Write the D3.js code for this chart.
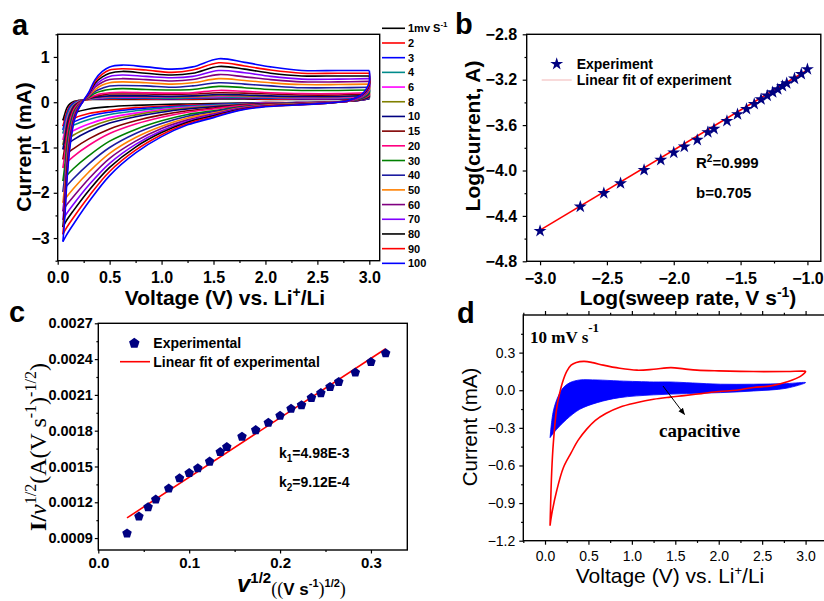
<!DOCTYPE html>
<html>
<head>
<meta charset="utf-8">
<script src="https://cdn.jsdelivr.net/npm/d3@7"></script>
<style>
  body { margin: 0; background: #fff; }
  svg { display: block; }
</style>
</head>
<body>
<svg id="fig" width="824" height="601"></svg>
<script>
// ---------- Panel a: CV curves at different sweep rates ----------
const rates = [1, 2, 3, 4, 6, 8, 10, 15, 20, 30, 40, 50, 60, 70, 80, 90, 100];
const rateLabels = ["1mv S", "2", "3", "4", "6", "8", "10", "15", "20", "30", "40", "50", "60", "70", "80", "90", "100"];
const rateColors = ["#000000", "#ff0000", "#0000ff", "#008b8b", "#ff00ff", "#808000", "#000080", "#800000",
                    "#ff0080", "#008000", "#1c1ca0", "#ff8000", "#800080", "#8000ff", "#000000", "#ff0000", "#0000ff"];

// anodic sweep voltages (0.05 V -> 3.0 V)
const anodicV = [0.05, 0.07, 0.09, 0.12, 0.16, 0.2, 0.25, 0.3, 0.36, 0.43, 0.5, 0.62, 0.85, 1.1, 1.3, 1.55, 1.8, 2.05, 2.35, 2.7, 3.0];
// cathodic sweep voltages (3.0 V -> 0.08 V)
const cathodicV = [3.0, 2.93, 2.8, 2.6, 2.3, 2.0, 1.75, 1.5, 1.25, 1.0, 0.75, 0.5, 0.3, 0.15, 0.08];

// current (mA), one row per sweep rate
const anodicI = [
  [-0.40,-0.25,-0.12,-0.03, 0.02, 0.04,0.05,0.06,0.06,0.06,0.06,0.06,0.06,0.06,0.06,0.07,0.07,0.06,0.06,0.06,0.08],
  [-0.53,-0.36,-0.20,-0.08, 0.00, 0.03,0.05,0.06,0.07,0.07,0.07,0.08,0.07,0.07,0.07,0.09,0.09,0.07,0.07,0.07,0.09],
  [-0.61,-0.43,-0.25,-0.10,-0.01, 0.02,0.05,0.07,0.08,0.08,0.09,0.09,0.09,0.08,0.09,0.10,0.10,0.09,0.08,0.08,0.10],
  [-0.69,-0.50,-0.29,-0.13,-0.03, 0.02,0.05,0.07,0.08,0.09,0.10,0.10,0.10,0.09,0.10,0.11,0.11,0.10,0.09,0.09,0.11],
  [-0.83,-0.61,-0.37,-0.18,-0.05, 0.01,0.05,0.07,0.09,0.10,0.11,0.11,0.11,0.11,0.11,0.13,0.13,0.11,0.10,0.10,0.12],
  [-0.94,-0.70,-0.44,-0.21,-0.06, 0.00,0.05,0.07,0.10,0.12,0.12,0.13,0.12,0.12,0.12,0.15,0.14,0.12,0.12,0.12,0.14],
  [-1.04,-0.79,-0.50,-0.25,-0.08,-0.01,0.05,0.08,0.11,0.13,0.14,0.14,0.14,0.13,0.14,0.17,0.16,0.14,0.13,0.13,0.15],
  [-1.26,-0.97,-0.63,-0.32,-0.11,-0.02,0.05,0.09,0.13,0.16,0.18,0.18,0.18,0.17,0.18,0.21,0.20,0.18,0.16,0.16,0.18],
  [-1.45,-1.13,-0.74,-0.39,-0.14,-0.03,0.05,0.09,0.15,0.19,0.21,0.22,0.21,0.20,0.21,0.26,0.24,0.21,0.19,0.19,0.21],
  [-1.74,-1.38,-0.91,-0.49,-0.19,-0.06,0.05,0.11,0.20,0.25,0.28,0.30,0.28,0.27,0.28,0.35,0.32,0.28,0.26,0.26,0.27],
  [-1.98,-1.58,-1.05,-0.57,-0.23,-0.07,0.04,0.13,0.24,0.31,0.36,0.37,0.36,0.33,0.36,0.43,0.40,0.36,0.32,0.32,0.33],
  [-2.22,-1.78,-1.19,-0.66,-0.27,-0.09,0.04,0.14,0.28,0.38,0.43,0.45,0.43,0.40,0.43,0.52,0.48,0.43,0.39,0.39,0.40],
  [-2.41,-1.94,-1.31,-0.72,-0.30,-0.10,0.04,0.16,0.33,0.44,0.50,0.52,0.50,0.47,0.50,0.61,0.56,0.50,0.45,0.45,0.46],
  [-2.60,-2.10,-1.42,-0.78,-0.32,-0.12,0.04,0.17,0.37,0.50,0.57,0.60,0.57,0.54,0.57,0.70,0.65,0.57,0.51,0.51,0.52],
  [-2.76,-2.23,-1.51,-0.84,-0.35,-0.13,0.04,0.19,0.42,0.56,0.64,0.68,0.64,0.60,0.64,0.79,0.73,0.64,0.58,0.58,0.58],
  [-2.92,-2.37,-1.61,-0.89,-0.37,-0.14,0.04,0.20,0.46,0.62,0.71,0.74,0.71,0.66,0.71,0.87,0.80,0.71,0.64,0.64,0.64],
  [-3.08,-2.50,-1.70,-0.95,-0.40,-0.15,0.04,0.22,0.50,0.68,0.78,0.82,0.78,0.73,0.78,0.96,0.88,0.78,0.70,0.70,0.70]
];
const cathodicI = [
  [0.08,0.05,0.02, 0.00,-0.01,-0.01,-0.02,-0.03,-0.04,-0.05,-0.07,-0.10,-0.15,-0.24,-0.32],
  [0.09,0.05,0.02, 0.00,-0.01,-0.01,-0.03,-0.05,-0.06,-0.09,-0.12,-0.18,-0.25,-0.36,-0.45],
  [0.09,0.05,0.02, 0.00,-0.01,-0.02,-0.03,-0.05,-0.08,-0.11,-0.15,-0.22,-0.31,-0.44,-0.53],
  [0.10,0.06,0.02, 0.00,-0.02,-0.02,-0.04,-0.06,-0.09,-0.13,-0.19,-0.27,-0.38,-0.51,-0.61],
  [0.11,0.06,0.02, 0.00,-0.02,-0.02,-0.05,-0.08,-0.11,-0.16,-0.24,-0.34,-0.48,-0.63,-0.74],
  [0.11,0.06,0.02, 0.00,-0.02,-0.03,-0.05,-0.09,-0.13,-0.19,-0.28,-0.40,-0.56,-0.73,-0.85],
  [0.12,0.06,0.02, 0.00,-0.02,-0.03,-0.06,-0.10,-0.15,-0.22,-0.32,-0.46,-0.64,-0.83,-0.95],
  [0.14,0.07,0.02, 0.00,-0.03,-0.04,-0.07,-0.13,-0.19,-0.28,-0.41,-0.59,-0.81,-1.03,-1.16],
  [0.16,0.08,0.02, 0.00,-0.03,-0.05,-0.08,-0.15,-0.22,-0.33,-0.48,-0.69,-0.95,-1.20,-1.35],
  [0.19,0.09,0.03,-0.01,-0.04,-0.06,-0.10,-0.19,-0.27,-0.41,-0.60,-0.86,-1.18,-1.47,-1.64],
  [0.23,0.10,0.03,-0.01,-0.04,-0.06,-0.11,-0.21,-0.31,-0.47,-0.69,-1.00,-1.36,-1.69,-1.87],
  [0.27,0.12,0.03,-0.01,-0.04,-0.07,-0.13,-0.24,-0.35,-0.53,-0.78,-1.13,-1.54,-1.91,-2.11],
  [0.31,0.13,0.03,-0.01,-0.05,-0.08,-0.14,-0.26,-0.39,-0.58,-0.86,-1.24,-1.69,-2.09,-2.29],
  [0.34,0.14,0.03,-0.01,-0.05,-0.08,-0.15,-0.28,-0.42,-0.63,-0.93,-1.35,-1.83,-2.26,-2.48],
  [0.38,0.16,0.04,-0.02,-0.05,-0.09,-0.16,-0.30,-0.44,-0.67,-0.99,-1.44,-1.95,-2.40,-2.63],
  [0.41,0.17,0.04,-0.02,-0.06,-0.09,-0.17,-0.32,-0.47,-0.72,-1.06,-1.53,-2.08,-2.55,-2.79],
  [0.45,0.18,0.04,-0.02,-0.06,-0.10,-0.18,-0.34,-0.50,-0.76,-1.12,-1.62,-2.20,-2.70,-2.95]
];

// ---------- Panel b: log(peak current) vs log(sweep rate) ----------
const logRate = [-3, -2.699, -2.523, -2.398, -2.222, -2.097, -2, -1.921, -1.824, -1.745, -1.699, -1.602,
                 -1.523, -1.456, -1.398, -1.347, -1.301, -1.260, -1.222, -1.187, -1.155, -1.097, -1.046, -1];
const logCurrent = [-4.533, -4.319, -4.200, -4.113, -3.996, -3.907, -3.843, -3.790, -3.731, -3.663, -3.634, -3.564,
                    -3.505, -3.458, -3.414, -3.373, -3.341, -3.311, -3.285, -3.256, -3.232, -3.191, -3.150, -3.108];
const bValue = 0.705;          // slope of the linear fit
const fitIntercept = -2.41;
const fitRange = [-3, -1];

// ---------- Panel c: I/v^1/2 vs v^1/2 ----------
const sqrtRate = [0.0316, 0.0447, 0.0548, 0.0632, 0.0775, 0.0894, 0.1, 0.1095, 0.1225, 0.1342, 0.1414, 0.1581,
                  0.1732, 0.1871, 0.2, 0.2121, 0.2236, 0.2345, 0.2449, 0.255, 0.2646, 0.2828, 0.3, 0.3162];
const currentOverSqrt = [0.000939, 0.001081, 0.001159, 0.001223, 0.001315, 0.001401, 0.001446, 0.001485, 0.001541,
                         0.001621, 0.001663, 0.00175, 0.001805, 0.001867, 0.001925, 0.001984, 0.002014, 0.002075,
                         0.002115, 0.002167, 0.002209, 0.002287, 0.002376, 0.002449];
const k1 = 4.98e-3;
const k2 = 9.12e-4;

// ---------- Panel d: 10 mV/s CV and capacitive contribution ----------
const totalAnodicV = [0.058, 0.077, 0.096, 0.135, 0.17, 0.2, 0.25, 0.3, 0.36, 0.45, 0.55, 0.67, 0.86, 1.06, 1.25, 1.45, 1.6, 1.75, 2.0, 2.4, 2.78, 2.97, 3.0];
const totalAnodicI = [-1.08, -0.65, -0.42, -0.14, -0.02, 0.06, 0.15, 0.20, 0.222, 0.23, 0.22, 0.20, 0.175, 0.16, 0.167, 0.18, 0.17, 0.16, 0.154, 0.149, 0.149, 0.152, 0.15];
const totalCathodicV = [3.0, 2.94, 2.8, 2.6, 2.4, 2.2, 2.0, 1.8, 1.6, 1.44, 1.25, 1.05, 0.86, 0.7, 0.58, 0.48, 0.38, 0.3, 0.21, 0.135, 0.077, 0.058];
const totalCathodicI = [0.15, 0.11, 0.07, 0.035, 0.022, 0.0, -0.01, -0.027, -0.043, -0.055, -0.072, -0.10, -0.135, -0.185, -0.24, -0.31, -0.40, -0.50, -0.62, -0.80, -0.99, -1.08];
const capUpperV = [0.058, 0.096, 0.153, 0.211, 0.288, 0.40, 0.6, 0.86, 1.25, 1.44, 1.7, 2.02, 2.4, 2.78, 3.0];
const capUpperI = [-0.378, -0.165, -0.046, 0.021, 0.061, 0.082, 0.082, 0.074, 0.066, 0.066, 0.058, 0.048, 0.048, 0.053, 0.061];
const capLowerV = [3.0, 2.78, 2.4, 2.02, 1.63, 1.25, 0.86, 0.6, 0.4, 0.25, 0.135, 0.058];
const capLowerI = [0.034, 0.016, -0.006, -0.019, -0.027, -0.037, -0.059, -0.099, -0.152, -0.231, -0.311, -0.378];

// ---------- Tick values ----------
const aXTicks = [0, 0.5, 1.0, 1.5, 2.0, 2.5, 3.0];
const aXMinor = [0.25, 0.75, 1.25, 1.75, 2.25, 2.75];
const aYTicks = [-3, -2, -1, 0, 1];
const aYMinor = [-3.5, -2.5, -1.5, -0.5, 0.5, 1.5];
const bXTicks = [-3.0, -2.5, -2.0, -1.5, -1.0];
const bXMinor = [-2.75, -2.25, -1.75, -1.25];
const bYTicks = [-4.8, -4.4, -4.0, -3.6, -3.2, -2.8];
const bYMinor = [-4.6, -4.2, -3.8, -3.4, -3.0];
const cXTicks = [0.0, 0.1, 0.2, 0.3];
const cXMinor = [0.05, 0.15, 0.25];
const cYTicks = [0.0009, 0.0012, 0.0015, 0.0018, 0.0021, 0.0024, 0.0027];
const cYMinor = [0.00105, 0.00135, 0.00165, 0.00195, 0.00225, 0.00255];
const dXTicks = [0.0, 0.5, 1.0, 1.5, 2.0, 2.5, 3.0];
const dXMinor = [-0.25, 0.25, 0.75, 1.25, 1.75, 2.25, 2.75];
const dYTicks = [-1.2, -0.9, -0.6, -0.3, 0.0, 0.3];
const dYMinor = [-1.05, -0.75, -0.45, -0.15, 0.15, 0.45];

// ================= drawing =================
const SANS = '"Liberation Sans", Arial, Helvetica, sans-serif';
const SERIF = '"Liberation Serif", "Times New Roman", serif';
const svg = d3.select("#fig");

svg.append("defs").append("marker")
  .attr("id", "arrowHead").attr("viewBox", "0 0 10 10").attr("refX", 9).attr("refY", 5)
  .attr("markerWidth", 7).attr("markerHeight", 7).attr("orient", "auto")
  .append("path").attr("d", "M0,1 L10,5 L0,9 Z").attr("fill", "#000");

function addAxis(o) {
  const make = { bottom: d3.axisBottom, left: d3.axisLeft, top: d3.axisTop }[o.side];
  const tr = o.side === "left" ? `translate(${o.at},0)` : `translate(0,${o.at})`;
  const gm = svg.append("g").attr("transform", tr)
    .call(make(o.scale).tickValues(o.minors).tickSize(o.size * 0.55).tickFormat(""));
  gm.select(".domain").remove();
  const g = svg.append("g").attr("transform", tr)
    .call(make(o.scale).tickValues(o.majors).tickSize(o.size).tickPadding(o.pad)
      .tickFormat(o.fmt ? o.fmt : () => ""));
  g.select(".domain").remove();
  g.selectAll("text").attr("font-family", SANS).attr("font-size", o.fs)
    .attr("font-weight", o.fw).attr("fill", "#000");
  [gm, g].forEach(x => x.selectAll(".tick line").attr("stroke", "#000").attr("stroke-width", 1.2));
}

// rich text with raised / lowered pieces
function rich(parent, x, y, parts, base) {
  const t = parent.append("text").attr("x", x).attr("y", y);
  Object.entries(base).forEach(([k, v]) => t.attr(k, v));
  let shift = 0;
  parts.forEach(p => {
    const s = t.append("tspan").text(p.t);
    const target = p.dy || 0;
    if (target !== shift) s.attr("dy", target - shift);
    shift = target;
    ["font-size", "font-family", "font-weight", "font-style"].forEach(k => { if (p[k]) s.attr(k, p[k]); });
  });
  return t;
}

function frame(x0, y0, x1, y1) {
  svg.append("rect").attr("x", x0).attr("y", y0).attr("width", x1 - x0).attr("height", y1 - y0)
    .attr("fill", "none").attr("stroke", "#000").attr("stroke-width", 1.4);
}

function panelLetter(ch, x, y) {
  svg.append("text").attr("x", x).attr("y", y).text(ch)
    .attr("font-family", SANS).attr("font-weight", "bold").attr("font-size", 29);
}

// ---------------- panel a ----------------
const xa = d3.scaleLinear().domain([0, 3.1]).range([57.7, 379.7]);
const ya = d3.scaleLinear().domain([-3.5, 1.5]).range([260.7, 34.3]);
const smooth = d3.line().x(d => xa(d[0])).y(d => ya(d[1])).curve(d3.curveCatmullRom.alpha(0.5));

const gA = svg.append("g");
rates.forEach((r, i) => {
  const an = anodicV.map((v, j) => [v, anodicI[i][j]]);
  const ca = [an[an.length - 1]].concat(cathodicV.map((v, j) => [v, cathodicI[i][j]]), [an[0]]);
  gA.append("path").attr("d", smooth(an)).attr("fill", "none")
    .attr("stroke", rateColors[i]).attr("stroke-width", 1.6);
  gA.append("path").attr("d", smooth(ca)).attr("fill", "none")
    .attr("stroke", rateColors[i]).attr("stroke-width", 1.6);
});
frame(57.7, 34.3, 379.7, 260.7);
addAxis({ side: "bottom", at: 260.7, scale: xa, majors: aXTicks, minors: aXMinor, size: 4, pad: 7,
          fmt: d3.format(".1f"), fs: 16, fw: "bold" });
addAxis({ side: "left", at: 57.7, scale: ya, majors: aYTicks, minors: aYMinor, size: 4, pad: 4,
          fmt: d3.format("d"), fs: 16, fw: "bold" });

// legend of sweep rates
const legA = svg.append("g");
rates.forEach((r, i) => {
  const yy = 28.3 + i * 14.69;
  legA.append("line").attr("x1", 382).attr("x2", 405).attr("y1", yy).attr("y2", yy)
    .attr("stroke", rateColors[i]).attr("stroke-width", 1.6);
  const parts = i === 0 ? [{ t: rateLabels[i] }, { t: "-1", dy: -5, "font-size": 8 }] : [{ t: rateLabels[i] }];
  rich(legA, 408, yy + 4, parts, { "font-family": SANS, "font-weight": "bold", "font-size": 11 });
});

rich(svg, 225, 305, [{ t: "Voltage (V) vs. Li" }, { t: "+", dy: -8, "font-size": 14 }, { t: "/Li" }],
     { "font-family": SANS, "font-weight": "bold", "font-size": 21, "text-anchor": "middle" });
svg.append("g").attr("transform", "translate(31,147) rotate(-90)")
  .append("text").text("Current (mA)").attr("text-anchor", "middle")
  .attr("font-family", SANS).attr("font-weight", "bold").attr("font-size", 21);
panelLetter("a", 12, 35);

// ---------------- panel b ----------------
const xb = d3.scaleLinear().domain([-3.1, -0.9]).range([526.7, 820.8]);
const yb = d3.scaleLinear().domain([-4.8, -2.8]).range([261.3, 34.3]);
frame(526.7, 34.3, 820.8, 261.3);
svg.append("line")
  .attr("x1", xb(fitRange[0])).attr("y1", yb(bValue * fitRange[0] + fitIntercept))
  .attr("x2", xb(fitRange[1])).attr("y2", yb(bValue * fitRange[1] + fitIntercept))
  .attr("stroke", "#ff0000").attr("stroke-width", 1.6);
const star = d3.symbol(d3.symbolStar, 52);
svg.append("g").selectAll("path").data(logRate).join("path")
  .attr("d", star).attr("fill", "#000080")
  .attr("transform", (d, i) => `translate(${xb(d)},${yb(logCurrent[i])})`);
addAxis({ side: "bottom", at: 261.3, scale: xb, majors: bXTicks, minors: bXMinor, size: 4, pad: 7.5,
          fmt: d3.format(".1f"), fs: 16, fw: "bold" });
addAxis({ side: "left", at: 526.7, scale: yb, majors: bYTicks, minors: bYMinor, size: 4, pad: 5.5,
          fmt: d3.format(".1f"), fs: 16, fw: "bold" });
// legend
svg.append("path").attr("d", star).attr("fill", "#000080").attr("transform", "translate(556.7,64)");
svg.append("text").attr("x", 576.7).attr("y", 69).text("Experiment")
  .attr("font-family", SANS).attr("font-weight", "bold").attr("font-size", 14);
svg.append("line").attr("x1", 541.7).attr("x2", 571.7).attr("y1", 80).attr("y2", 80)
  .attr("stroke", "#f2b5b5").attr("stroke-width", 1);
svg.append("text").attr("x", 576.7).attr("y", 85).text("Linear fit of experiment")
  .attr("font-family", SANS).attr("font-weight", "bold").attr("font-size", 14);
rich(svg, 696, 168, [{ t: "R" }, { t: "2", dy: -6, "font-size": 10 }, { t: "=0.999" }],
     { "font-family": SANS, "font-weight": "bold", "font-size": 15 });
svg.append("text").attr("x", 696).attr("y", 198).text("b=" + bValue.toFixed(3))
  .attr("font-family", SANS).attr("font-weight", "bold").attr("font-size", 15);
rich(svg, 688, 305, [{ t: "Log(sweep rate, V s" }, { t: "-1", dy: -8, "font-size": 14 }, { t: ")" }],
     { "font-family": SANS, "font-weight": "bold", "font-size": 21, "text-anchor": "middle" });
svg.append("g").attr("transform", "translate(480,136) rotate(-90)")
  .append("text").text("Log(current, A)").attr("text-anchor", "middle")
  .attr("font-family", SANS).attr("font-weight", "bold").attr("font-size", 21);
panelLetter("b", 455, 34);

// ---------------- panel c ----------------
const xc = d3.scaleLinear().domain([0, 0.34]).range([98.3, 407.3]);
const yc = d3.scaleLinear().domain([0.0008, 0.0027]).range([550, 323.3]);
frame(98.3, 323.3, 407.3, 550);
svg.append("line")
  .attr("x1", xc(sqrtRate[0])).attr("y1", yc(k1 * sqrtRate[0] + k2))
  .attr("x2", xc(sqrtRate[sqrtRate.length - 1])).attr("y2", yc(k1 * sqrtRate[sqrtRate.length - 1] + k2))
  .attr("stroke", "#ff0000").attr("stroke-width", 1.6);
function pentagon(r) {
  const pts = d3.range(5).map(i => {
    const a = -Math.PI / 2 + i * 2 * Math.PI / 5;
    return [r * Math.cos(a), r * Math.sin(a)];
  });
  return "M" + pts.join("L") + "Z";
}
svg.append("g").selectAll("path").data(sqrtRate).join("path")
  .attr("d", pentagon(5)).attr("fill", "#000080")
  .attr("transform", (d, i) => `translate(${xc(d)},${yc(currentOverSqrt[i])})`);
addAxis({ side: "bottom", at: 550, scale: xc, majors: cXTicks, minors: cXMinor, size: 3.5, pad: 4,
          fmt: d3.format(".1f"), fs: 15, fw: "bold" });
addAxis({ side: "left", at: 98.3, scale: yc, majors: cYTicks, minors: cYMinor, size: 3.5, pad: 2,
          fmt: d3.format(".4f"), fs: 14.5, fw: "bold" });
// legend
svg.append("path").attr("d", pentagon(5.5)).attr("fill", "#000080").attr("transform", "translate(134.3,343.3)");
svg.append("text").attr("x", 153.3).attr("y", 348).text("Experimental")
  .attr("font-family", SANS).attr("font-weight", "bold").attr("font-size", 14);
svg.append("line").attr("x1", 120).attr("x2", 150).attr("y1", 361.7).attr("y2", 361.7)
  .attr("stroke", "#ff0000").attr("stroke-width", 1.6);
svg.append("text").attr("x", 153.3).attr("y", 367).text("Linear fit of experimental")
  .attr("font-family", SANS).attr("font-weight", "bold").attr("font-size", 14);
rich(svg, 279, 458, [{ t: "k" }, { t: "1", dy: 4, "font-size": 10 }, { t: "=" + (k1 * 1e3).toFixed(2) + "E-3" }],
     { "font-family": SANS, "font-weight": "bold", "font-size": 14 });
rich(svg, 279, 487, [{ t: "k" }, { t: "2", dy: 4, "font-size": 10 }, { t: "=" + (k2 * 1e4).toFixed(2) + "E-4" }],
     { "font-family": SANS, "font-weight": "bold", "font-size": 14 });
rich(svg, 237, 592, [
  { t: "v", "font-style": "italic", "font-size": 24 },
  { t: "1/2", dy: -9, "font-size": 15 },
  { t: "((", dy: 3, "font-family": SERIF, "font-weight": "normal", "font-size": 18 },
  { t: "V s", dy: 3, "font-size": 17 },
  { t: "-1", dy: -5, "font-size": 11 },
  { t: ")", dy: 3, "font-family": SERIF, "font-weight": "normal", "font-size": 18 },
  { t: "1/2", dy: -5, "font-size": 11 },
  { t: ")", dy: 3, "font-family": SERIF, "font-weight": "normal", "font-size": 18 }
], { "font-family": SANS, "font-weight": "bold", "font-size": 15 });
const cy = svg.append("g").attr("transform", "translate(46,447) rotate(-90)");
rich(cy, 0, 0, [
  { t: "I/", "font-weight": "bold" },
  { t: "v", "font-style": "italic" },
  { t: "1/2", dy: -10, "font-size": 16 },
  { t: "(A(V s" },
  { t: "-1", dy: -10, "font-size": 16 },
  { t: ")" },
  { t: "-1/2", dy: -10, "font-size": 16 },
  { t: ")" }
], { "font-family": SERIF, "font-size": 24, "text-anchor": "middle" });
panelLetter("c", 9, 322);

// ---------------- panel d ----------------
const xd = d3.scaleLinear().domain([-0.25, 3.25]).range([523.3, 827.3]);
const yd = d3.scaleLinear().domain([-1.2, 0.6]).range([540.7, 315]);
const smoothD = d3.line().x(d => xd(d[0])).y(d => yd(d[1])).curve(d3.curveCatmullRom.alpha(0.5));
const capOutline = capUpperV.map((v, i) => [v, capUpperI[i]])
  .concat(capLowerV.slice(1).map((v, i) => [v, capLowerI[i + 1]]));
svg.append("path").attr("d", smoothD(capOutline) + "Z").attr("fill", "#0000ff").attr("stroke", "#0000ff")
  .attr("stroke-width", 0.8);
const loop = totalAnodicV.map((v, i) => [v, totalAnodicI[i]])
  .concat(totalCathodicV.slice(1).map((v, i) => [v, totalCathodicI[i + 1]]));
svg.append("path").attr("d", smoothD(loop)).attr("fill", "none")
  .attr("stroke", "#ff0000").attr("stroke-width", 1.6);
frame(523.3, 315, 827.3, 540.7);
addAxis({ side: "bottom", at: 540.7, scale: xd, majors: dXTicks, minors: dXMinor, size: 4, pad: 6,
          fmt: d3.format(".1f"), fs: 14, fw: "normal" });
addAxis({ side: "top", at: 315, scale: xd, majors: dXTicks, minors: dXMinor, size: 4, pad: 6,
          fmt: null, fs: 14, fw: "normal" });
addAxis({ side: "left", at: 523.3, scale: yd, majors: dYTicks, minors: dYMinor, size: 4, pad: 4,
          fmt: d3.format(".1f"), fs: 14, fw: "normal" });
rich(svg, 530, 343, [{ t: "10 mV s" }, { t: "-1", dy: -11, "font-size": 13 }],
     { "font-family": SERIF, "font-weight": "bold", "font-size": 17 });
svg.append("text").attr("x", 659).attr("y", 437).text("capacitive")
  .attr("font-family", SERIF).attr("font-weight", "bold").attr("font-size", 19);
svg.append("line").attr("x1", 663).attr("y1", 386).attr("x2", 684.5).attr("y2", 414.5)
  .attr("stroke", "#000").attr("stroke-width", 1).attr("marker-end", "url(#arrowHead)");
rich(svg, 670, 583, [{ t: "Voltage (V) vs. Li" }, { t: "+", dy: -8, "font-size": 13 }, { t: "/Li" }],
     { "font-family": SANS, "font-size": 21, "text-anchor": "middle" });
svg.append("g").attr("transform", "translate(477,427) rotate(-90)")
  .append("text").text("Current (mA)").attr("text-anchor", "middle")
  .attr("font-family", SANS).attr("font-size", 20.5);
panelLetter("d", 457, 323);
</script>
</body>
</html>
